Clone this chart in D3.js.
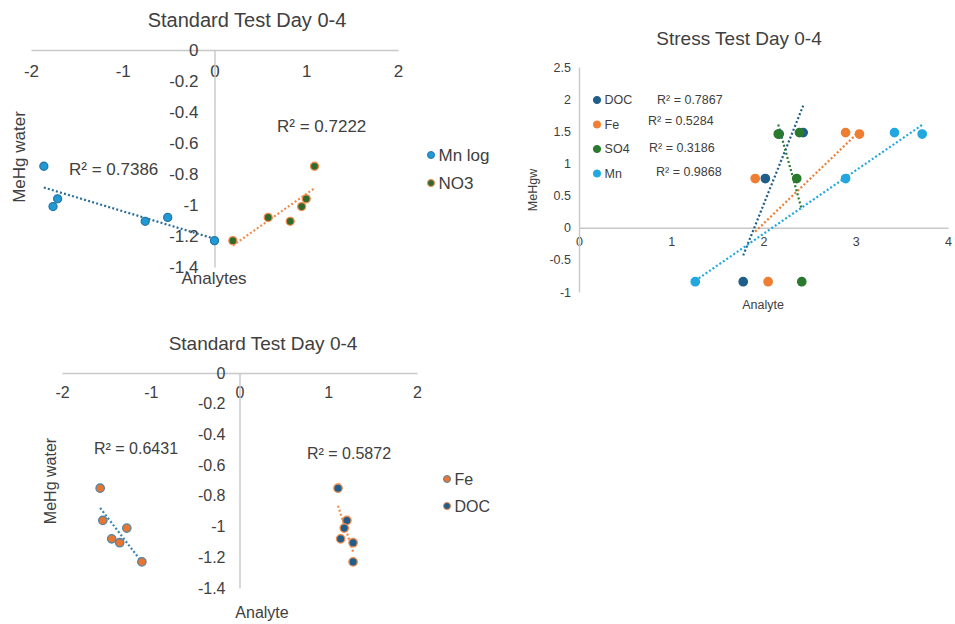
<!DOCTYPE html>
<html>
<head>
<meta charset="utf-8">
<script src="https://cdn.jsdelivr.net/npm/d3@7"></script>
<style>
  html, body { margin: 0; padding: 0; background: #fff; }
  svg { display: block; font-family: "Liberation Sans", Arial, sans-serif; }
  .axis .domain { stroke: #c8c8c8; stroke-width: 1.4; }
  .axis text { fill: #404040; }
</style>
</head>
<body>
<svg id="chart" width="955" height="624"></svg>
<script>
// ---- Standard test (top): MeHg water vs Mn log / NO3 ----
const meHgWater = [-0.75, -0.96, -1.01, -1.08, -1.105, -1.23];
const mnLogX    = [-1.86, -1.71, -1.76, -0.51, -0.755, 0.0];
const no3X      = [1.09, 1.0, 0.95, 0.585, 0.825, 0.2];
const std1R2    = ["R² = 0.7386", "R² = 0.7222"];

// ---- Stress test: MeHgw vs DOC / Fe / SO4 / Mn ----
const meHgw    = [-0.84, 0.765, 1.457, 1.48];
const stressDocX = [1.78, 2.02, 2.17, 2.43];
const stressFeX  = [2.05, 1.91, 3.04, 2.89];
const stressSo4X = [2.415, 2.36, 2.16, 2.39];
const stressMnX  = [1.26, 2.89, 3.72, 3.42];
const stressNames = ["DOC", "Fe", "SO4", "Mn"];
const stressR2    = ["R² = 0.7867", "R² = 0.5284", "R² = 0.3186", "R² = 0.9868"];

// ---- Standard test (bottom): MeHg water vs Fe / DOC ----
const std2FeX  = [-1.57, -1.54, -1.27, -1.44, -1.35, -1.10];
const std2DocX = [1.11, 1.21, 1.18, 1.14, 1.28, 1.28];
const std2R2   = ["R² = 0.6431", "R² = 0.5872"];

// tick values
const stdXTicks = [-2, -1, 0, 1, 2];
const stdYTicks = [0, -0.2, -0.4, -0.6, -0.8, -1, -1.2, -1.4];
const stressXTicks = [0, 1, 2, 3, 4];
const stressYTicks = [2.5, 2, 1.5, 1, 0.5, 0, -0.5, -1];

const TEXT = "#404040";
const svg = d3.select("#chart");

const fmt = d => {
  const v = Math.round(d * 10) / 10;
  return String(v === 0 ? 0 : v);
};

// least-squares line across the x-extent of a series
function fitLine(xs, ys) {
  const n = xs.length;
  const mx = d3.mean(xs), my = d3.mean(ys);
  let sxy = 0, sxx = 0;
  for (let i = 0; i < n; i++) {
    sxy += (xs[i] - mx) * (ys[i] - my);
    sxx += (xs[i] - mx) * (xs[i] - mx);
  }
  const b = sxy / sxx, a = my - b * mx;
  const [x0, x1] = d3.extent(xs);
  return [[x0, a + b * x0], [x1, a + b * x1]];
}

function drawAxes(g, x, y, opt) {
  const xa = g.append("g").attr("class", "axis")
    .attr("transform", `translate(0,${y(0)})`)
    .call(d3.axisBottom(x).tickValues(opt.xTicks).tickFormat(fmt)
      .tickSize(0).tickPadding(opt.xPad));
  xa.selectAll("text").style("font-size", opt.font + "px");

  const ya = g.append("g").attr("class", "axis")
    .attr("transform", `translate(${x(0)},0)`)
    .call(d3.axisLeft(y).tickValues(opt.yTicks).tickFormat(fmt)
      .tickSize(0).tickPadding(opt.yPad));
  ya.selectAll("text").style("font-size", opt.font + "px");
  g.selectAll(".axis").attr("font-family", null);
}

function drawTrend(g, x, y, xs, ys, color) {
  const line = d3.line().x(d => x(d[0])).y(d => y(d[1]));
  g.append("path")
    .attr("d", line(fitLine(xs, ys)))
    .attr("fill", "none")
    .attr("stroke", color)
    .attr("stroke-width", 2.2)
    .attr("stroke-dasharray", "2 2.2");
}

function drawPoints(g, x, y, xs, ys, fill, stroke, r) {
  g.append("g").selectAll("circle")
    .data(xs.map((v, i) => [v, ys[i]]))
    .join("circle")
    .attr("cx", d => x(d[0]))
    .attr("cy", d => y(d[1]))
    .attr("r", r)
    .attr("fill", fill)
    .attr("stroke", stroke)
    .attr("stroke-width", 1.3);
}

function label(g, txt, px, py, size, anchor, rotate) {
  const t = g.append("text")
    .text(txt)
    .attr("fill", TEXT)
    .style("font-size", size + "px")
    .attr("text-anchor", anchor || "start")
    .attr("dominant-baseline", "central");
  if (rotate) t.attr("transform", `translate(${px},${py}) rotate(-90)`);
  else t.attr("x", px).attr("y", py);
  return t;
}

function legendItem(g, px, py, txt, fill, stroke, size, r) {
  g.append("circle").attr("cx", px).attr("cy", py).attr("r", r)
    .attr("fill", fill).attr("stroke", stroke).attr("stroke-width", 1);
  label(g, txt, px + r + 4, py, size);
}

// ================= Panel 1 =================
{
  const g = svg.append("g");
  const x = d3.scaleLinear().domain([-2, 2]).range([31, 398]);
  const y = d3.scaleLinear().domain([-1.4, 0]).range([267, 50]);
  drawAxes(g, x, y, { xTicks: stdXTicks, yTicks: stdYTicks, font: 17, xPad: 15, yPad: 16 });

  drawTrend(g, x, y, mnLogX, meHgWater, "#2b6f98");
  drawTrend(g, x, y, no3X, meHgWater, "#f28a4c");
  drawPoints(g, x, y, mnLogX, meHgWater, "#1f9ad6", "#2478a8", 4);
  drawPoints(g, x, y, no3X, meHgWater, "#2e6b2c", "#f28a4c", 4);

  label(g, "Standard Test Day 0-4", 247, 20, 20, "middle");
  label(g, "MeHg water", 19, 157, 17, "middle", true);
  label(g, "Analytes", 214, 278, 17, "middle");
  label(g, std1R2[0], 69, 169, 17);
  label(g, std1R2[1], 277, 126, 17);

  legendItem(g, 431, 155, "Mn log", "#1f9ad6", "#2478a8", 17, 3.5);
  legendItem(g, 431, 183, "NO3", "#2e6b2c", "#f28a4c", 17, 3.5);
}

// ================= Panel 2 =================
{
  const g = svg.append("g");
  const x = d3.scaleLinear().domain([0, 4]).range([579, 948]);
  const y = d3.scaleLinear().domain([-1, 2.5]).range([292, 67]);
  drawAxes(g, x, y, { xTicks: stressXTicks, yTicks: stressYTicks, font: 12.5, xPad: 9, yPad: 8 });

  const series = [
    { xs: stressDocX, color: "#1f5e8a" },
    { xs: stressFeX,  color: "#ef7d32" },
    { xs: stressSo4X, color: "#2a7a2e" },
    { xs: stressMnX,  color: "#22a7df" }
  ];
  series.forEach(s => drawTrend(g, x, y, s.xs, meHgw, s.color));
  series.forEach(s => drawPoints(g, x, y, s.xs, meHgw, s.color, s.color, 4.2));

  label(g, "Stress Test Day 0-4", 739, 38, 19, "middle");
  label(g, "MeHgw", 533, 190, 12.5, "middle", true);
  label(g, "Analyte", 763, 305, 12.5, "middle");

  const rows = [100, 124.5, 149, 173.5];
  series.forEach((s, i) => legendItem(g, 597, rows[i], stressNames[i], s.color, s.color, 12.5, 3.6));
  const r2pos = [[657, 100], [648, 121], [649, 148], [656, 172]];
  stressR2.forEach((t, i) => label(g, t, r2pos[i][0], r2pos[i][1], 12.5));
}

// ================= Panel 3 =================
{
  const g = svg.append("g");
  const x = d3.scaleLinear().domain([-2, 2]).range([62, 417]);
  const y = d3.scaleLinear().domain([-1.4, 0]).range([588, 373]);
  drawAxes(g, x, y, { xTicks: stdXTicks, yTicks: stdYTicks, font: 16, xPad: 14, yPad: 14 });

  drawTrend(g, x, y, std2FeX, meHgWater, "#3a84ad");
  drawTrend(g, x, y, std2DocX, meHgWater, "#f28a4c");
  drawPoints(g, x, y, std2FeX, meHgWater, "#ea7530", "#4f86a6", 4.2);
  drawPoints(g, x, y, std2DocX, meHgWater, "#1f5e8a", "#f0894c", 4.2);

  label(g, "Standard Test Day 0-4", 263, 343, 19, "middle");
  label(g, "MeHg water", 50, 481, 16, "middle", true);
  label(g, "Analyte", 262, 612, 16, "middle");
  label(g, std2R2[0], 94, 448, 16);
  label(g, std2R2[1], 307, 453, 16);

  legendItem(g, 447, 479, "Fe", "#ea7530", "#4f86a6", 16, 3.5);
  legendItem(g, 447, 506, "DOC", "#1f5e8a", "#f0894c", 16, 3.5);
}
</script>
</body>
</html>
